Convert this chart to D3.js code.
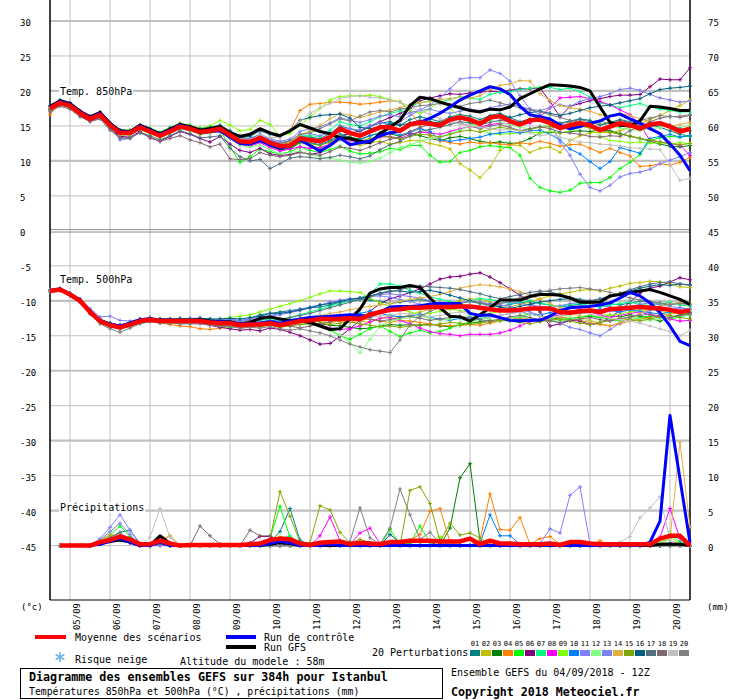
<!doctype html>
<html lang="fr">
<head>
	<meta charset="UTF-8">
	<title>Diagramme des ensembles GEFS - Istanbul</title>
	<style>
		body { margin: 0; background: #fff; }
		svg { display: block; font-family: "DejaVu Sans Mono", monospace; }
		.tick { font-size: 9px; fill: #000; }
		.lbl { font-size: 10px; fill: #000; }
	</style>
</head>
<body>
	<script src="https://d3js.org/d3.v7.min.js"></script>
	<script>
		// ====== data, 6h steps from 04/09 12Z (temperatures start at +0h, precipitations at +6h)
		var dateLabels = ['05/09','06/09','07/09','08/09','09/09','10/09','11/09','12/09',
			'13/09','14/09','15/09','16/09','17/09','18/09','19/09','20/09'];

		var pertColors = ['#008080','#c0c000','#008000','#ff8000','#00ff00','#800080','#00ff80','#ff00ff','#80ff00','#0080ff',
			'#8080ff','#80ff80','#7f7ff0','#e0b040','#80a800','#006080','#507080','#806870','#c0c0c0','#808080'];
		var pertNames = ['01','02','03','04','05','06','07','08','09','10','11','12','13','14','15','16','17','18','19','20'];

		var t850Mean = [17.5,18.3,17.9,16.8,16.0,16.6,15.1,14.0,14.0,14.8,
			14.2,13.6,14.2,14.9,14.6,14.1,14.3,14.6,13.7,12.8,
			12.7,13.3,12.6,12.1,12.2,13.2,13.0,12.8,13.4,14.6,
			14.0,13.6,14.2,14.8,14.8,14.3,15.2,15.5,15.3,15.1,
			15.9,16.2,15.9,15.3,16.2,16.4,15.7,15.2,15.8,15.9,
			15.4,14.7,15.1,15.4,15.1,14.4,14.9,15.4,15.1,14.6,
			15.2,15.4,14.9,14.2,14.6];
		var t850Ctrl = [17.7,18.5,18.1,17.0,16.2,16.8,15.3,14.2,14.1,15.0,
			14.4,13.8,14.4,15.1,14.7,14.0,14.2,14.3,13.4,12.5,
			12.4,12.9,12.3,11.8,12.1,13.0,12.2,11.4,12.2,13.3,
			12.3,12.6,12.8,13.6,14.0,14.3,15.3,15.5,16.1,16.8,
			17.7,18.7,19.4,20.0,20.6,20.3,19.5,17.8,16.6,16.3,
			16.0,15.1,14.6,14.9,15.4,15.7,16.4,16.7,16.0,15.4,
			14.6,13.9,12.4,10.8,8.6];
		var t850Gfs = [17.8,18.6,18.2,17.1,16.3,16.9,15.4,14.3,14.2,15.1,
			14.5,13.9,14.5,15.2,14.9,14.4,14.6,14.9,14.0,13.5,
			13.8,14.6,14.0,13.6,14.3,15.2,14.7,14.2,13.9,13.3,
			13.2,12.8,12.6,13.9,14.8,15.8,17.9,19.1,18.9,18.4,
			18.0,17.6,17.2,17.0,17.4,17.3,17.7,18.9,19.6,20.3,
			20.9,20.8,20.7,20.5,20.0,17.7,15.5,15.1,15.0,15.7,
			17.8,17.7,17.5,17.2,17.2];
		var t850Pert = [
			[17.8,18.5,18.1,17.0,16.3,16.9,15.3,14.4,14.3,15.0, 14.5,14.0,14.6,15.2,14.9,14.4,14.6,15.0,14.2,13.4,
			 13.2,13.8,13.0,12.5,12.7,13.5,13.4,13.2,13.9,15.0, 14.6,14.2,14.9,15.4,15.6,15.1,15.9,16.3,16.0,15.6,
			 16.3,16.6,16.4,15.9,16.5,16.8,16.2,15.6,16.0,16.3, 15.9,15.4,15.7,16.0,15.8,15.2,15.5,15.9,15.6,14.9, 15.2,14.8,14.3,13.8,13.5],
			[17.2,18.0,17.6,16.5,15.8,16.3,14.8,13.7,13.7,14.5, 13.9,13.3,13.9,14.6,14.3,13.8,14.0,14.2,13.3,12.4,
			 12.3,12.9,12.2,11.6,11.8,12.7,12.3,11.8,12.2,13.0, 12.5,12.2,12.6,12.8,12.4,12.6,12.9,12.9,12.5,12.2,
			 11.7,9.6,8.7,7.6,9.1,11.5,12.3,12.2,11.2,11.8, 12.0,11.2,12.9,13.6,14.0,14.1,14.0,14.3,14.8,15.3, 15.9,16.5,17.2,17.9,18.7],
			[17.4,18.2,17.8,16.7,15.9,16.4,14.9,13.8,13.8,14.6, 14.0,13.4,14.0,14.7,14.4,13.9,14.1,14.4,13.4,12.4,
			 12.2,12.9,12.1,11.6,11.7,12.6,12.5,12.3,12.9,13.8, 13.4,13.1,13.6,14.0,13.9,13.5,14.0,13.6,13.2,12.9,
			 13.3,13.5,13.2,12.8,12.6,12.7,12.5,12.6,13.2,14.0, 14.1,14.0,14.2,14.3,14.2,14.4,14.3,13.9,13.5,13.2, 12.8,12.4,12.1,12.0,12.2],
			[16.6,18.4,18.0,16.9,16.1,16.7,15.2,14.1,14.1,14.9, 14.3,13.7,14.3,15.0,14.7,14.2,14.4,14.7,13.8,13.0,
			 12.9,13.6,13.2,13.6,14.3,17.2,18.1,18.2,18.4,18.4, 18.3,18.1,18.2,18.4,18.6,18.5,17.2,15.0,13.6,12.9,
			 12.6,12.4,12.7,12.5,12.6,12.4,12.3,12.6,12.4,12.8, 12.5,12.1,12.3,12.4,11.8,11.2,11.8,11.2,10.7,9.2, 9.3,9.6,9.4,9.8,10.5],
			[17.3,18.1,17.7,16.6,15.8,16.4,14.9,13.9,13.8,14.6, 14.1,13.5,14.0,14.8,14.5,14.0,14.1,14.4,12.0,9.8,
			 10.6,11.7,11.3,11.0,11.3,12.0,11.5,11.2,11.6,12.1, 11.4,11.0,11.1,11.3,11.8,11.6,12.2,12.2,10.8,9.8,
			 9.9,11.2,11.5,12.0,12.2,12.0,11.9,10.8,7.5,6.2, 5.7,5.5,5.8,6.8,6.9,6.9,7.6,8.9,9.8,10.9, 12.9,13.3,13.5,13.4,13.6],
			[17.4,18.2,17.7,16.5,15.7,16.2,14.7,13.5,13.4,14.2, 13.3,12.8,13.5,14.2,13.8,13.2,12.7,13.5,12.4,11.5,
			 11.2,11.8,11.0,10.8,10.9,11.3,10.9,11.2,12.4,13.6, 13.9,14.3,15.0,15.6,16.2,16.8,17.5,18.6,19.0,19.3,
			 19.6,19.5,19.7,19.8,20.0,19.8,20.1,20.3,20.3,20.4, 18.5,16.3,17.8,18.2,18.6,18.9,19.2,19.4,19.4,19.5, 20.6,21.7,21.6,21.6,23.3],
			[17.6,18.4,18.0,16.9,16.1,16.7,15.2,14.1,14.1,14.9, 14.4,13.8,14.4,15.1,14.8,14.3,14.5,14.8,13.8,13.0,
			 12.8,13.5,12.9,12.4,12.6,13.6,13.6,13.5,14.4,15.6, 15.2,15.0,15.6,16.3,16.8,17.1,17.8,18.3,18.6,18.4,
			 18.8,19.2,19.0,18.8,19.5,19.8,19.9,20.2,20.4,20.5, 20.5,20.2,20.4,19.9,19.1,18.3,18.0,17.6,17.9,18.2, 17.7,17.4,17.2,17.0,17.0],
			[17.3,18.1,17.7,16.6,15.8,16.4,14.9,13.8,13.9,14.6, 14.0,13.4,14.0,14.7,14.4,13.9,14.0,14.3,13.2,12.3,
			 12.1,12.6,11.9,11.4,11.7,12.0,11.8,11.9,12.4,13.2, 12.9,12.6,13.0,13.4,13.5,13.2,13.8,14.1,14.0,13.8,
			 14.2,14.6,14.9,14.8,15.2,15.4,15.3,15.2,15.4,16.3, 17.6,19.0,19.1,19.2,18.9,18.5,18.0,17.3,16.6,15.2, 12.9,12.7,12.5,12.2,10.8],
			[17.7,18.5,18.1,17.0,16.3,16.9,15.4,14.4,14.4,15.2, 14.7,14.1,14.8,15.4,15.1,14.7,15.0,15.8,15.1,14.3,
			 14.5,15.8,15.2,13.6,13.9,15.1,16.3,17.5,18.7,19.2, 19.3,19.3,19.4,19.2,18.8,18.4,17.2,16.8,17.4,18.7,
			 17.5,16.2,15.4,14.6,13.9,13.8,13.9,14.0,14.1,14.0, 14.2,14.0,14.3,14.8,15.1,13.5,12.9,12.8,12.6,12.7, 12.5,12.6,12.4,12.6,12.5],
			[17.6,18.4,18.0,16.9,16.1,16.7,15.2,14.2,14.1,14.9, 14.3,13.7,14.3,15.0,14.7,14.2,14.3,14.5,13.5,12.6,
			 12.5,13.0,12.4,11.9,12.0,12.9,12.6,12.3,12.8,13.8, 13.2,13.0,13.6,14.0,14.1,13.7,14.1,14.6,14.2,13.0,
			 12.8,13.0,13.2,13.4,13.8,14.0,14.2,14.0,14.3,14.4, 13.8,13.0,11.7,11.0,9.9,8.9,9.9,11.9,11.5,11.1, 13.2,13.5,13.8,13.4,13.6],
			[17.8,18.6,18.2,17.0,16.2,16.8,15.0,13.0,13.2,14.6, 14.2,13.8,14.4,15.0,14.6,14.0,14.2,14.6,13.8,13.0,
			 13.0,13.6,13.0,12.6,12.9,13.8,13.9,13.6,14.0,14.8, 14.6,14.4,15.0,15.5,15.2,15.6,16.5,17.3,18.0,19.0,
			 20.3,21.7,21.9,21.9,23.0,22.5,21.4,19.3,17.4,16.6, 15.5,12.7,10.8,8.1,6.2,5.7,6.5,7.7,8.2,8.4, 8.8,9.6,10.1,10.6,11.2],
			[17.2,18.0,17.6,16.5,15.8,16.3,14.8,13.7,13.7,14.5, 13.9,13.3,13.9,14.6,14.3,13.8,14.0,14.2,13.2,12.2,
			 12.0,12.3,11.6,11.0,11.2,11.4,10.8,10.6,10.4,10.1, 9.8,9.7,9.9,10.4,11.2,11.9,12.3,12.8,13.2,13.5,
			 13.9,14.4,15.0,15.6,15.8,15.5,15.2,14.8,14.6,14.9, 15.1,14.8,14.6,14.9,15.2,15.4,15.0,14.7,14.5,14.3, 14.6,14.8,15.0,14.7,15.1],
			[17.7,18.5,18.1,17.0,16.2,16.8,15.3,14.3,14.2,15.0, 14.5,13.9,14.5,15.2,14.9,14.4,14.6,14.9,14.0,13.2,
			 13.1,13.8,13.2,12.8,13.1,14.2,14.6,14.9,15.4,16.2, 15.8,15.5,15.9,16.4,16.6,16.3,16.9,17.2,17.4,17.0,
			 16.8,17.1,17.4,17.2,17.6,17.9,18.1,17.8,17.4,17.2, 17.6,18.0,17.8,18.5,18.9,19.2,19.6,20.2,20.4,20.1, 19.5,19.0,18.7,18.4,18.6],
			[17.5,18.3,17.9,16.8,16.0,16.6,15.1,14.1,14.0,14.8, 14.2,13.7,14.3,15.0,14.6,14.1,14.3,14.6,13.7,12.9,
			 12.8,13.4,12.8,12.4,12.6,13.7,14.3,15.1,16.0,16.8, 16.5,16.2,16.6,17.0,17.3,17.6,18.0,18.3,18.5,18.8,
			 18.9,19.1,19.0,19.3,20.2,20.8,21.0,21.5,21.4,19.6, 18.6,17.9,17.6,17.4,17.1,16.6,16.4,16.8,16.5,16.0, 15.6,15.3,15.0,15.2,15.5],
			[17.3,18.1,17.7,16.6,15.9,16.4,14.9,13.8,13.8,14.6, 14.0,13.5,14.1,14.8,14.4,13.9,14.1,14.4,13.5,12.6,
			 12.4,13.0,12.4,11.9,12.1,12.8,12.5,12.2,12.7,13.6, 13.1,12.8,13.2,13.5,13.4,13.1,13.5,13.8,13.7,13.4,
			 13.8,14.2,14.4,14.1,14.5,14.8,14.6,14.3,14.5,14.8, 14.9,14.6,14.8,15.0,14.7,14.3,14.1,13.8,13.6,13.2, 13.0,12.7,12.5,12.3,12.5],
			[17.9,18.7,18.3,17.2,16.4,17.0,15.4,14.4,14.3,15.1, 14.6,14.0,14.7,15.3,15.0,14.6,14.8,15.1,14.3,13.6,
			 13.5,14.3,13.8,13.4,14.3,15.8,16.2,16.5,16.6,16.7, 16.1,14.8,14.6,14.9,15.3,15.1,15.4,15.8,15.6,15.4,
			 15.8,16.0,15.7,15.5,16.0,16.4,16.2,16.6,16.9,17.1, 16.8,16.5,16.8,17.2,17.6,17.8,18.0,18.3,18.6,18.9, 19.6,20.2,20.4,20.5,20.7],
			[17.3,18.0,17.6,16.5,15.7,16.2,14.6,13.3,13.2,14.1, 13.6,13.0,13.6,14.3,13.9,13.3,13.4,13.6,11.8,10.6,
			 10.0,10.2,8.9,9.6,10.4,10.6,10.5,10.3,10.5,10.8, 10.6,10.3,10.7,11.6,12.3,12.8,13.6,14.2,14.5,14.8,
			 15.2,15.6,15.4,15.2,15.5,15.8,15.6,15.3,15.7,16.0, 15.8,15.3,15.6,15.9,15.6,15.1,15.4,15.8,15.5,15.0, 14.8,15.2,15.1,14.6,14.3],
			[17.0,17.8,17.4,16.3,15.6,16.0,14.4,13.3,13.3,14.0, 13.4,12.8,13.2,13.6,13.0,12.6,12.0,12.4,10.3,10.2,
			 10.3,11.2,10.8,10.6,10.8,11.2,11.0,10.8,11.3,12.0, 11.8,11.5,12.0,12.6,13.1,13.4,14.2,14.8,15.2,15.5,
			 15.6,15.4,15.0,14.6,15.0,15.2,14.8,14.3,14.6,14.9, 14.6,14.1,14.0,13.8,13.5,13.4,13.6,13.5,14.3,15.0, 15.6,16.1,16.4,16.2,16.5],
			[17.6,18.4,18.0,16.9,16.1,16.7,15.2,14.2,14.1,14.9, 14.4,13.8,14.4,15.1,14.8,14.3,14.5,14.8,13.9,13.1,
			 13.0,13.7,13.3,13.4,14.2,15.6,16.8,17.6,18.2,18.9, 19.2,19.3,19.1,19.0,18.7,18.4,17.8,17.1,16.7,16.0,
			 15.6,15.3,15.0,14.8,14.6,14.4,14.5,14.3,14.0,13.6, 13.8,13.4,13.0,12.7,12.6,12.4,12.3,12.1,11.9,11.8, 11.7,11.6,9.5,7.2,7.5],
			[17.5,18.3,17.9,16.8,16.0,16.6,15.1,14.0,14.0,14.8, 14.2,13.6,14.2,14.9,14.6,14.1,14.3,14.6,13.6,12.9,
			 12.8,13.4,12.7,12.5,12.9,13.8,14.0,14.6,15.3,16.0, 15.7,16.4,17.0,17.2,17.0,17.4,17.6,17.9,18.0,18.2,
			 18.0,17.8,18.2,18.4,18.7,18.3,17.9,17.6,17.3,17.0, 16.6,16.2,15.8,15.5,15.4,15.7,15.3,15.0,15.4,15.8, 16.1,16.5,16.3,16.4,16.6]
		];

		var t500Mean = [-8.6,-8.4,-9.1,-10.0,-11.6,-12.9,-13.5,-13.8,-13.4,-12.9,
			-12.7,-12.9,-12.9,-12.9,-12.9,-12.9,-13.1,-13.2,-13.2,-13.5,
			-13.4,-13.4,-13.2,-13.5,-13.2,-12.9,-12.8,-12.6,-12.6,-12.6,
			-12.5,-12.6,-12.0,-11.6,-11.3,-11.2,-11.0,-11.0,-10.9,-10.9,
			-10.9,-10.8,-10.8,-11.0,-11.2,-11.4,-11.4,-11.3,-11.1,-11.1,
			-11.1,-11.6,-11.7,-11.5,-11.4,-11.6,-11.2,-11.1,-11.0,-10.9,
			-11.0,-11.1,-11.3,-11.6,-11.4];
		var t500Ctrl = [-8.5,-8.3,-9.0,-9.9,-11.5,-12.8,-13.3,-13.6,-13.2,-12.7,
			-12.6,-12.8,-12.8,-12.9,-12.8,-12.8,-13.0,-13.0,-13.1,-13.3,
			-13.3,-13.2,-13.0,-13.2,-12.9,-12.6,-12.4,-12.3,-12.2,-12.1,
			-12.0,-12.1,-12.2,-11.6,-10.9,-10.8,-10.8,-10.7,-10.5,-10.4,
			-10.4,-10.4,-11.8,-12.1,-12.0,-12.4,-12.8,-12.9,-12.8,-12.8,
			-12.2,-11.4,-11.0,-10.9,-10.8,-10.6,-10.3,-9.6,-8.8,-9.3,
			-10.3,-11.7,-13.6,-15.8,-16.4];
		var t500Gfs = [-8.6,-8.4,-9.1,-10.0,-11.6,-12.9,-13.5,-13.8,-13.4,-12.9,
			-12.6,-12.8,-12.8,-12.8,-12.8,-12.7,-12.9,-13.0,-13.0,-13.3,
			-13.1,-12.5,-12.3,-12.6,-12.8,-12.9,-13.1,-13.6,-14.1,-14.0,
			-12.6,-11.2,-8.9,-8.3,-8.1,-8.1,-7.8,-8.1,-9.6,-11.0,
			-12.2,-12.3,-12.9,-12.0,-11.0,-9.9,-9.9,-9.9,-9.4,-9.1,
			-9.1,-9.2,-9.6,-10.2,-10.2,-10.2,-9.3,-9.1,-8.8,-8.6,
			-8.4,-8.8,-9.3,-9.8,-10.5];
		var t500Pert = [
			[-8.5,-8.3,-9.0,-9.8,-11.3,-12.6,-13.2,-13.5,-13.1,-12.6, -12.4,-12.6,-12.6,-12.5,-12.6,-12.5,-12.7,-12.8,-12.7,-12.9,
			 -12.5,-12.0,-11.8,-11.6,-11.4,-11.2,-11.0,-10.9,-10.6,-10.2, -10.0,-9.8,-9.9,-10.1,-10.4,-10.2,-10.0,-9.8,-10.1,-10.4,
			 -10.6,-10.3,-10.1,-10.4,-10.6,-10.8,-10.5,-10.3,-10.1,-10.4, -10.6,-10.9,-10.7,-10.5,-10.3,-10.2,-10.4,-10.6,-10.3,-10.1, -10.2,-10.4,-10.6,-10.3,-10.5],
			[-8.6,-8.4,-9.1,-10.1,-11.7,-13.0,-13.6,-13.9,-13.5,-13.0, -12.8,-13.0,-13.0,-13.1,-13.0,-13.0,-13.2,-13.3,-13.2,-13.5,
			 -13.4,-13.5,-13.3,-13.6,-13.4,-13.0,-12.9,-13.0,-13.2,-12.8, -12.6,-12.9,-13.1,-12.5,-12.2,-12.4,-12.0,-11.6,-11.2,-10.8,
			 -10.4,-10.0,-9.7,-9.8,-10.2,-10.6,-10.9,-10.5,-10.2,-9.7, -9.3,-9.0,-8.8,-8.5,-8.4,-8.6,-8.2,-7.9,-7.5,-7.4, -7.2,-7.3,-7.6,-8.0,-8.1],
			[-8.7,-8.5,-9.2,-10.1,-11.8,-13.1,-13.7,-14.0,-13.6,-13.1, -12.9,-13.1,-13.1,-13.2,-13.1,-13.1,-13.3,-13.4,-13.4,-13.7,
			 -13.6,-13.6,-13.4,-13.7,-13.4,-13.2,-13.1,-13.3,-13.5,-13.6, -13.8,-14.0,-13.9,-13.6,-13.4,-13.5,-13.4,-13.5,-13.3,-13.6,
			 -13.7,-13.5,-13.2,-13.0,-12.8,-12.9,-12.7,-12.6,-12.8,-12.9, -12.7,-12.4,-12.6,-12.3,-12.2,-12.4,-12.1,-12.3,-12.0,-12.2, -12.5,-12.9,-12.4,-12.0,-11.8],
			[-8.6,-8.4,-9.1,-10.0,-11.6,-12.9,-13.5,-13.8,-13.3,-12.8, -12.9,-13.2,-13.4,-13.6,-13.7,-14.0,-14.1,-13.9,-13.6,-13.7,
			 -13.4,-13.3,-13.1,-13.2,-13.0,-12.9,-12.6,-12.4,-12.7,-12.9, -13.0,-12.8,-12.6,-12.9,-13.1,-12.8,-12.9,-13.1,-13.3,-13.5,
			 -13.6,-13.5,-13.4,-13.5,-13.2,-12.9,-12.6,-12.4,-12.6,-12.8, -12.6,-12.3,-12.5,-12.8,-13.1,-13.4,-13.6,-13.3,-12.9,-12.6, -12.4,-12.1,-11.9,-11.7,-11.6],
			[-8.6,-8.4,-9.0,-9.9,-11.5,-12.8,-13.4,-13.7,-13.3,-12.8, -12.6,-12.8,-12.9,-13.0,-12.9,-13.0,-13.3,-13.6,-13.8,-13.7,
			 -13.4,-13.2,-13.0,-13.2,-13.0,-12.9,-13.1,-13.5,-14.2,-15.0, -15.5,-14.8,-14.0,-13.6,-14.4,-15.1,-14.6,-14.2,-14.6,-14.4,
			 -13.9,-13.4,-13.0,-12.6,-12.2,-12.4,-12.6,-12.2,-11.9,-12.2, -12.5,-12.8,-12.6,-12.3,-12.1,-12.4,-12.6,-12.9,-12.7,-12.4, -12.2,-12.4,-12.6,-12.3,-12.0],
			[-8.7,-8.5,-9.2,-10.2,-11.8,-13.1,-13.7,-14.0,-13.6,-13.1, -12.9,-13.1,-13.1,-13.2,-13.2,-13.2,-13.5,-13.8,-14.0,-14.2,
			 -14.1,-14.3,-13.9,-14.1,-14.5,-15.0,-15.6,-16.2,-16.1,-15.1, -14.0,-12.8,-11.5,-10.4,-9.7,-9.3,-8.8,-8.3,-7.6,-6.9,
			 -6.6,-6.5,-6.2,-6.0,-6.6,-7.4,-8.3,-9.2,-10.1,-11.6, -13.6,-13.3,-12.8,-12.9,-13.4,-13.2,-12.4,-11.4,-10.2,-8.9, -8.2,-7.9,-7.3,-6.7,-7.0],
			[-8.5,-8.3,-9.0,-9.9,-11.5,-12.8,-13.3,-13.6,-13.2,-12.7, -12.5,-12.7,-12.7,-12.8,-12.7,-12.8,-12.9,-13.0,-13.0,-13.2,
			 -13.0,-12.8,-12.6,-12.7,-12.4,-12.0,-11.6,-11.2,-10.8,-10.4, -10.0,-9.6,-9.0,-7.6,-7.6,-7.9,-8.5,-8.9,-9.4,-9.8,
			 -10.1,-10.4,-10.0,-9.7,-9.8,-10.1,-10.4,-10.2,-10.0,-10.3, -10.6,-10.8,-10.5,-10.4,-10.7,-10.9,-10.6,-10.4,-10.2,-10.5, -10.7,-10.4,-10.2,-10.6,-10.8],
			[-8.6,-8.4,-9.1,-10.0,-11.6,-12.8,-13.3,-13.5,-13.1,-12.6, -12.5,-12.7,-12.8,-12.9,-13.0,-13.1,-13.3,-13.5,-13.6,-13.8,
			 -13.7,-13.5,-13.4,-13.6,-13.5,-13.3,-13.2,-13.4,-13.9,-14.1, -14.0,-13.6,-13.0,-12.5,-12.4,-12.8,-13.3,-13.9,-14.4,-14.7,
			 -14.8,-15.0,-14.8,-14.8,-14.8,-14.6,-14.2,-13.6,-13.0,-12.6, -12.3,-12.0,-11.6,-11.2,-11.6,-12.0,-12.4,-12.1,-11.8,-11.6, -12.0,-12.3,-12.6,-12.9,-12.8],
			[-8.5,-8.3,-9.0,-9.9,-11.4,-12.7,-13.2,-13.5,-13.1,-12.6, -12.5,-12.7,-12.7,-12.7,-12.6,-12.6,-12.7,-12.6,-12.4,-12.2,
			 -12.0,-11.6,-11.2,-10.8,-10.4,-10.0,-9.5,-9.0,-8.6,-8.6, -8.7,-8.8,-9.6,-10.3,-10.8,-11.2,-11.6,-12.0,-11.8,-11.5,
			 -11.2,-11.4,-11.7,-12.0,-11.8,-11.5,-11.2,-11.6,-11.9,-12.2, -12.4,-12.2,-12.0,-11.7,-11.5,-11.8,-12.1,-11.9,-11.6,-11.4, -11.2,-11.5,-11.8,-11.6,-11.3],
			[-8.6,-8.4,-9.1,-10.0,-11.6,-12.9,-13.4,-13.7,-13.3,-12.8, -12.7,-12.9,-12.9,-12.9,-12.8,-12.8,-13.0,-13.1,-13.0,-13.2,
			 -13.1,-13.0,-12.8,-12.9,-12.7,-12.5,-12.3,-12.1,-12.3,-12.5, -12.2,-11.8,-11.5,-11.8,-12.1,-12.3,-12.2,-11.9,-12.4,-12.6,
			 -12.8,-12.5,-12.3,-12.6,-12.4,-12.1,-11.8,-11.6,-11.9,-12.0, -11.7,-11.4,-11.6,-11.8,-11.5,-11.2,-11.4,-11.6,-11.3,-11.5, -11.7,-11.9,-11.6,-11.4,-11.7],
			[-8.4,-8.2,-8.9,-9.7,-11.1,-12.3,-12.2,-12.8,-12.9,-12.6, -12.4,-12.6,-12.6,-12.6,-12.5,-12.5,-12.6,-12.7,-12.6,-12.8,
			 -12.6,-12.3,-12.1,-11.8,-11.5,-11.2,-10.9,-10.6,-10.2,-9.9, -9.7,-9.6,-9.4,-9.3,-9.5,-9.8,-10.1,-10.5,-10.8,-11.0,
			 -10.6,-10.3,-10.0,-10.2,-10.4,-10.6,-10.8,-11.2,-11.6,-12.1, -12.6,-13.2,-13.8,-14.1,-14.6,-15.0,-14.1,-13.2,-12.5,-11.8, -11.4,-11.1,-11.3,-11.0,-11.2],
			[-8.5,-8.3,-9.0,-10.0,-11.6,-12.9,-13.4,-13.7,-13.3,-12.8, -12.7,-12.9,-12.9,-13.0,-12.9,-12.9,-13.1,-13.2,-13.3,-13.5,
			 -13.5,-13.6,-13.4,-13.6,-13.4,-13.2,-13.3,-13.6,-14.1,-14.9, -16.0,-17.4,-15.5,-13.6,-12.9,-12.6,-12.4,-12.2,-12.5,-12.8,
			 -12.6,-12.3,-12.1,-12.4,-12.7,-12.9,-12.6,-12.3,-12.5,-12.8, -12.9,-12.6,-12.4,-12.6,-12.9,-13.1,-12.8,-12.5,-12.3,-12.6, -12.8,-12.6,-12.4,-12.2,-12.0],
			[-8.6,-8.4,-9.0,-10.0,-11.5,-12.8,-13.3,-13.6,-13.2,-12.7, -12.6,-12.8,-12.8,-12.8,-12.7,-12.7,-12.8,-12.9,-12.8,-12.9,
			 -12.8,-12.5,-12.2,-12.0,-11.7,-11.4,-11.0,-10.6,-10.3,-10.1, -9.9,-9.6,-9.3,-9.1,-9.0,-9.2,-9.4,-9.6,-10.0,-10.4,
			 -10.7,-10.9,-11.1,-10.9,-10.6,-10.4,-10.2,-10.4,-10.6,-10.8, -11.0,-10.7,-10.4,-10.2,-10.4,-10.6,-10.9,-11.1,-10.8,-10.5, -10.3,-10.6,-10.8,-11.0,-11.2],
			[-8.6,-8.4,-9.1,-10.0,-11.6,-12.9,-13.5,-13.8,-13.4,-12.9, -12.7,-12.9,-12.9,-12.9,-12.9,-12.9,-13.1,-13.2,-13.2,-13.4,
			 -13.3,-13.2,-13.0,-13.1,-12.9,-12.6,-12.4,-12.1,-11.8,-11.6, -11.3,-11.0,-10.8,-10.6,-10.4,-10.1,-9.8,-9.6,-9.4,-9.1,
			 -8.7,-8.2,-7.9,-7.7,-7.8,-8.0,-8.3,-8.7,-9.2,-9.8, -10.4,-11.0,-11.6,-12.2,-12.8,-13.2,-13.6,-13.1,-12.4,-11.8, -11.2,-10.8,-10.5,-10.2,-10.4],
			[-8.6,-8.4,-9.1,-10.1,-11.7,-13.0,-13.6,-13.9,-13.5,-13.0, -12.8,-13.0,-13.0,-13.1,-13.1,-13.1,-13.3,-13.5,-13.6,-13.9,
			 -13.8,-13.7,-13.5,-13.8,-13.6,-13.4,-13.3,-13.2,-13.4,-13.2, -13.0,-13.3,-13.5,-13.7,-13.6,-13.8,-13.6,-13.4,-13.5,-13.3,
			 -13.1,-13.2,-13.4,-13.2,-13.0,-12.8,-12.9,-13.1,-13.3,-13.0, -12.8,-12.6,-12.9,-13.2,-13.4,-13.1,-12.8,-12.5,-12.7,-12.9, -12.6,-12.3,-12.1,-12.4,-12.6],
			[-8.5,-8.3,-9.0,-9.8,-11.4,-12.7,-13.2,-13.5,-13.1,-12.6, -12.5,-12.6,-12.6,-12.6,-12.6,-12.5,-12.6,-12.6,-12.5,-12.6,
			 -12.4,-12.2,-11.8,-11.8,-11.6,-11.3,-11.0,-10.6,-10.4,-10.1, -9.8,-9.6,-9.3,-8.9,-8.6,-8.6,-8.8,-8.7,-8.5,-8.8,
			 -9.2,-9.6,-10.0,-10.3,-10.6,-10.9,-11.1,-10.8,-10.5,-10.2, -10.0,-9.8,-9.7,-9.9,-10.1,-9.8,-9.4,-9.0,-8.6,-8.2, -7.9,-7.7,-7.8,-7.6,-7.7],
			[-8.6,-8.4,-9.1,-10.0,-11.6,-12.9,-13.4,-13.7,-13.3,-12.8, -12.6,-12.8,-12.8,-12.8,-12.8,-12.8,-12.9,-13.0,-13.0,-13.1,
			 -12.9,-12.7,-12.5,-12.6,-12.4,-12.1,-11.8,-11.4,-11.0,-10.6, -10.2,-9.8,-9.4,-9.0,-8.7,-8.4,-8.1,-7.9,-8.0,-8.1,
			 -8.2,-8.4,-8.7,-9.0,-9.4,-9.7,-9.4,-9.1,-8.8,-8.6, -8.7,-9.1,-9.5,-9.8,-10.0,-9.7,-9.3,-8.9,-8.4,-8.0, -7.6,-7.4,-7.3,-7.6,-7.8],
			[-8.6,-8.4,-9.1,-10.1,-11.7,-13.0,-13.6,-13.9,-13.5,-13.0, -12.8,-13.0,-13.0,-13.0,-13.0,-13.0,-13.2,-13.3,-13.3,-13.5,
			 -13.4,-13.3,-13.1,-13.4,-13.6,-13.9,-13.6,-13.3,-13.0,-12.7, -12.5,-12.3,-12.6,-12.9,-12.7,-12.4,-12.2,-12.5,-12.8,-12.6,
			 -12.4,-12.2,-12.5,-12.7,-12.9,-12.6,-12.3,-12.1,-12.4,-12.7, -12.9,-13.1,-12.8,-12.6,-12.4,-12.7,-12.9,-12.6,-12.3,-12.1, -11.9,-12.2,-12.4,-12.1,-11.9],
			[-8.6,-8.4,-9.1,-10.0,-11.6,-12.9,-13.4,-13.7,-13.3,-12.8, -12.7,-12.9,-12.9,-12.9,-12.9,-12.9,-13.1,-13.2,-13.2,-13.4,
			 -13.3,-13.2,-13.0,-13.1,-12.9,-12.7,-12.5,-12.4,-12.6,-12.8, -12.9,-12.7,-12.4,-12.2,-12.0,-11.8,-11.9,-12.1,-12.3,-12.1,
			 -11.8,-11.6,-11.9,-12.2,-12.4,-12.1,-11.8,-11.6,-11.9,-12.2, -12.4,-12.2,-11.9,-11.7,-11.9,-12.2,-12.5,-12.7,-12.9,-13.2, -13.6,-14.0,-14.4,-15.0,-14.2],
			[-8.7,-8.5,-9.2,-10.2,-11.9,-13.3,-14.0,-14.5,-13.9,-13.3, -13.0,-13.2,-13.2,-13.3,-13.3,-13.3,-13.5,-13.6,-13.7,-13.9,
			 -13.8,-13.9,-13.7,-14.0,-14.2,-14.0,-14.3,-14.6,-15.0,-15.6, -16.2,-16.6,-17.0,-17.2,-17.4,-15.6,-13.4,-12.2,-11.5,-11.0,
			 -10.7,-10.4,-10.1,-10.3,-10.6,-10.4,-10.0,-9.6,-9.2,-8.8, -8.5,-8.3,-8.2,-8.1,-8.3,-8.5,-8.8,-9.2,-9.6,-9.9, -10.1,-10.3,-10.5,-10.4,-10.6]
		];

		var precipMean = [0,0,0,0,0.5,0.8,1.3,0.9,0.2,0.2,
			0.7,0.3,0,0.1,0.1,0.1,0.1,0.1,0.1,0.2,
			0.3,0.8,1.0,0.9,0.3,0.1,0.4,0.5,0.6,0.2,
			0.4,0.3,0.2,0.5,0.5,0.7,0.7,0.7,0.6,0.6,
			0.6,1.0,0.2,0.7,0.3,0.3,0.2,0.2,0.2,0.3,
			0.1,0.5,0.5,0.3,0.2,0.2,0.2,0.2,0.2,0.2,
			1.0,1.4,1.4,0];
		var precipCtrl = [0,0,0,0,0.2,0.6,1.0,0.5,0,0,
			0.5,0,0,0,0,0,0,0,0,0,
			0,0.3,0.6,0.4,0,0,0,0.2,0,0,
			0,0,0,0,0,0,0,0,0,0,
			0,0,0,0,0,0,0,0,0,0,
			0,0,0,0,0,0,0,0,0,0.5,
			3.5,18.6,9.5,0.4];
		var precipGfs = [0,0,0,0,0.3,0.6,0.8,0.5,0,0,
			1.4,0.3,0,0,0,0,0,0,0,0,
			0,0.2,0.4,0.3,0,0,0,0,0,0,
			0,0,0,0,0,0,0,0,0,0,
			0,0,0,0,0,0,0,0,0,0,
			0,0,0,0,0,0,0,0,0,0,
			0.2,0.2,0.2,0];
		var precipPert = [
			[0,0,0,0,0.5,1.2,1.9,2.2,0.3,0, 0.4,0,0,0,0,0,0,0,0,0, 0,0.5,2.0,5.3,0.8,0,0,0,0,0, 0,0,0,0,0,0,0,0,0,0, 0,0,0,0,0,0,0,0,0,0, 0,0,0,0,0,0,0,0,0,0, 0.3,0.4,0.2,0],
			[0,0,0,0,0.8,1.6,1.4,0.6,0,0, 0.6,0.2,0,0,0,0,0,0,0,0, 0,0,0,0,0,0,0,0,0,0, 0,0,0,0,0,0,0,0,0,0, 0,0,0,0,0,0,0,0,0,0, 0,0,0,0,0,0,0,0,0,0, 0,0.3,0.5,0],
			[0,0,0,0,0.3,0.7,1.2,0.5,0,0, 0.3,0,0,0,0,0,0,0,0,0, 0,0,0,0,0,0,0,0,0,0, 0,0,0,0,0,0,0,0,0,2.5, 9.7,11.7,0.6,0,0,0,0,0,0,0, 0,0,0,0,0,0,0,0,0,0, 0,0,0,0],
			[0,0,0,0,0.4,0.9,1.1,0.6,0,0, 0.5,1.4,0,0,0,0,0,0,0,0, 0,0,0,0,0,0,0,0,0,0, 0,0,0,0,0,0.8,1.6,4.9,5.3,0.5, 0,0,0.8,7.4,2.3,2.2,4.0,0.2,1.0,1.3, 0.2,0,0,0,0.7,0,0,0,0,0, 0,0,0,0],
			[0,0,0,0,0.6,1.5,2.8,1.3,0.2,0, 0.5,0,0,0,0,0,0,0,0,0, 0,1.0,5.6,1.2,0,0,0,0,0,0, 0,0,0,2.3,0.2,0.3,2.8,0.4,0,0, 0,0,0,0,0,0,0,0,0,0, 0,0,0,0,0,0,0,0,0,0, 0,0,0,0],
			[0,0,0,0,0.3,0.6,1.0,0.4,0,0, 0.2,0,0,0,0,0,0,0,0,0.4, 1.3,1.3,0.3,0,0,0,0,0,0,0, 0,0,0,0,0,0,0,0,0,0, 0,0,0,0,0,0,0,0,0,0, 0,0,0,0,0,0,0,0,0,0, 0,0,0,0],
			[0,0,0,0,0.4,0.8,1.2,0.7,0,0, 0.3,0,0,0,0,0,0,0,0,0, 0,0.4,0.9,1.4,0.4,0,0,0,0,0, 0,0,0,0,0,0,0,0,0,0, 0,0,0,0,0,0,0,0,0,0, 0,0,0,0,0,0,0,0,0,0, 0,1.5,0.6,0],
			[0,0,0,0,0.3,0.7,1.1,0.5,0,0, 0.2,0,0,0,0,0,0,0,0,0, 0,0,0,0,0,0,1.4,4.1,0.7,0.2, 1.8,2.5,0.3,0,0,0,0,0,0,0, 0,0,0,0,0,0,0,0,0,0, 0,0,0,0,0,0,0,0,0,0.4, 1.2,5.3,1.0,0],
			[0,0,0,0,0.4,0.9,1.4,0.6,0,0, 0.9,0.3,0,0,0,0,0,0,0,0, 0,0.6,1.3,0.5,0,0,0,0,0,0, 0,0,0,0,0,0,0,0,1.3,0.4, 0,0,0,0,0,0,0,0,0,0, 0,0,0,0,0,0,0,0,0,0, 0.5,1.2,0.3,0],
			[0,0,0,0,0.4,0.8,1.0,0.6,0,0, 0.3,0,0,0,0,0,0,0,0,0, 0,0,0,0,0,0,0,0,0,0, 0,0,0,0,0,0,0,0,0,0, 0,0,0.3,4.4,1.4,1.4,0.2,0,0,0, 0,0,0,0,0,0,0,0,0,0, 0,0,0,0],
			[0,0,0,0,1.0,2.6,4.4,2.2,0.2,0, 0,0,0,0,0,0,0,0,0,0, 0,0,0,0,0,0,0,0,0,0, 0,0,0,0,0,0,0,0,0,0, 0,0,0,0,0,0,0,0,0.3,2.4, 1.8,7.2,8.4,0.2,0,0,0,0,0,0, 0,0,0,0],
			[0,0,0,0,0.4,0.9,1.3,0.7,0,0, 0.4,0,0,0,0,0,0,0,0,0, 0,0,0,0,0,0,0,0,0,0, 0,0,0,0,0,0,0,0,0,0, 0,0,0,0,0,0,0,0,0,0, 0,0,0,0,0,0,0,0,0,0, 0.3,2.0,0.3,0],
			[0,0,0,0,0.8,2.0,3.2,1.6,0,0, 0,0,0,0,0,0,0,0,0,0, 0,0,0,0,0,0,0,0,0,0, 0,0,0,0,0,0,0,0,0,0, 0,0,0,0,0,0,0,0,0,0, 0,0,0,0,0,0,0,0,0,0, 0,0,0,0],
			[0,0,0,0,0.7,1.5,1.1,0.5,0,0.3, 0.8,1.4,0,0,0,0,0,0,0,0, 0,0,0,0,0,0,0,0,0,0, 0,0,0,0,0,0,0,0,0,0, 0,0,0,0,0,0,0,0,0,0, 0,0,0,0,0,0,0,0,0,0, 0.2,1.0,14.8,2.6],
			[0,0,0,0,0.5,1.0,1.6,0.8,0,0, 0.4,0,0,0,0,0,0,0,0,0, 0,1.0,7.7,4.2,0.5,0.4,5.7,5.1,1.9,0.4, 0.9,0.4,0,0.2,0,7.9,8.4,6.0,0.6,3.2, 1.5,1.8,1.1,0,0,0,0,0,0,0, 0,0,0,0,0,0,0,0,0,0, 0,0,0,0],
			[0,0,0,0,0.4,0.9,1.5,0.9,0,0, 0.5,0,0,0,0,0,0,0,0,0, 0,0,0,0,0,0,0,0,0,0, 0,0,0,1.6,0.4,0,0,0,0.8,0, 0,0,0,0,0,0,0,0,0,0, 0,0,0,0,0,0,0,0,0,0, 0,0.2,0.3,0],
			[0,0,0,0,0.3,0.6,0.9,0.4,0,0, 0.2,0,0,0,0,0,0,0,0,0, 0,0,0,0,0,0,0,0,0,0, 0,0,0,0,0,0,0,0,0,0, 0,0,0,0,0,0,0,0,0,0, 0,0,0,0,0,0,0,0,0,0, 0,0,0,0],
			[0,0,0,0,0.3,0.7,1.0,0.5,0,0, 0.2,0,0,0,2.8,1.4,0.2,0,0,2.2, 1.4,1.4,0.8,0,0,0,0,0,0,0, 0,0,0,0,0,0,0,0,0,0, 0,0,0,0,0,0,0,0,0,0, 0,0,0,0,0,0,0,0,0,0, 0,0,0,0],
			[0,0,0,0,0.5,1.1,1.6,0.6,0,1.2, 5.3,1.2,0,0,0,0,0,0,0,0, 0,0,0,0,0,0,0,0,0,0, 0,0,0,0,0,0,0,0,0,0, 0,0,0,0,0,0,0,0,0,0, 0,0,0,0,0,0,0.5,1.3,4.0,5.4, 7.0,0.8,0,0],
			[0,0,0,0,0.5,1.2,1.8,0.8,0,0, 0.4,0,0,0,0,0,0,0,0,0, 0,0,0,0,0,0,0,0,0,0.6, 5.4,1.1,0.2,2.5,8.1,4.4,0.9,1.9,0.3,0, 0,0,0,0,0,0,0,0,0,0, 0,0,0,0,0,0,0,0,0,0, 0,0,0,0]
		];

		// ====== chart setup
		var w = 740,
			h = 700,
			plotLeft = 50,
			plotRight = 690,
			plotBottom = 600;

		var svg = d3.select('body')
			.append('svg')
			.attr('width', w)
			.attr('height', h);

		// one time axis (hours after 04/09 12Z), one value axis for the three panels
		var xScale = d3.scaleLinear().domain([0, 384]).range([plotLeft, plotRight]);
		var yScale = d3.scaleLinear().domain([-45, 30]).range([545.6, 21]);
		// precipitations (mm) sit on the -45 line of the value axis
		var yPrecip = d3.scaleLinear().domain([0, 20]).range([yScale(-45), yScale(-25)]);


		/**
		* draw grid, axes and tick labels
		*/
		var drawFrame = function() {
			var grid = svg.append('g');

			grid.selectAll('line.v')
				.data(d3.range(12, 384, 24))
				.enter().append('line')
				.attr('x1', function(d) { return xScale(d); })
				.attr('x2', function(d) { return xScale(d); })
				.attr('y1', 0)
				.attr('y2', plotBottom)
				.attr('stroke', '#c0c0c0')
				.attr('stroke-width', 1);

			var values = yScale.ticks(15).filter(function(v) { return v !== 0; });
			grid.selectAll('line.h')
				.data(values)
				.enter().append('line')
				.attr('x1', plotLeft)
				.attr('x2', plotRight)
				.attr('y1', function(d) { return yScale(d); })
				.attr('y2', function(d) { return yScale(d); })
				.attr('stroke', '#c0c0c0')
				.attr('stroke-width', function(d) { return d % 10 === 0 ? 2.2 : 1; });

			// panel separator at 0 drawn as a double line
			[-1.2, 1.2].forEach(function(off) {
				grid.append('line')
					.attr('x1', plotLeft).attr('x2', plotRight)
					.attr('y1', yScale(0) + off).attr('y2', yScale(0) + off)
					.attr('stroke', '#8c8c8c')
					.attr('stroke-width', 1);
			});

			// frame
			grid.append('line').attr('x1', plotLeft).attr('x2', plotLeft).attr('y1', 0).attr('y2', plotBottom)
				.attr('stroke', '#000').attr('stroke-width', 1.5);
			grid.append('line').attr('x1', plotRight).attr('x2', plotRight).attr('y1', 0).attr('y2', plotBottom)
				.attr('stroke', '#000').attr('stroke-width', 1.5);
			grid.append('line').attr('x1', plotLeft).attr('x2', plotRight).attr('y1', plotBottom).attr('y2', plotBottom)
				.attr('stroke', '#000').attr('stroke-width', 1);

			var tickVals = yScale.ticks(15);
			svg.append('g').selectAll('text')
				.data(tickVals)
				.enter().append('text')
				.attr('class', 'tick')
				.attr('x', 20)
				.attr('y', function(d) { return yScale(d) + 5; })
				.text(function(d) { return d; });

			// right axis: +45 for temperatures, mm for precipitations
			svg.append('g').selectAll('text')
				.data(tickVals)
				.enter().append('text')
				.attr('class', 'tick')
				.attr('x', 708)
				.attr('y', function(d) { return yScale(d) + 5; })
				.text(function(d) { return d + 45; });

			svg.append('g').selectAll('text')
				.data(dateLabels)
				.enter().append('text')
				.attr('class', 'tick')
				.attr('text-anchor', 'end')
				.attr('transform', function(d, i) {
					return 'translate(' + (xScale(12 + i * 24) + 9.5) + ',603) rotate(-90)';
				})
				.text(function(d) { return d; });

			svg.append('text').attr('class', 'tick').attr('x', 21).attr('y', 610).text('(°c)');
			svg.append('text').attr('class', 'tick').attr('x', 707).attr('y', 610).text('(mm)');
		};


		/**
		* label of a panel, on a white box
		*/
		var drawPanelLabel = function(text, yBase) {
			var g = svg.append('g');
			var t = g.append('text')
				.attr('class', 'lbl')
				.attr('x', 60)
				.attr('y', yBase)
				.text(text);
			var bb = t.node().getBBox();
			g.insert('rect', 'text')
				.attr('x', bb.x - 1)
				.attr('y', bb.y)
				.attr('width', bb.width + 2)
				.attr('height', bb.height)
				.attr('fill', '#fff');
		};


		/**
		* draw one series as a line, with small crosses for the members
		*/
		var drawSeries = function(g, values, yFn, startHour, color, width, marks) {
			var line = d3.line()
				.x(function(d, i) { return xScale(startHour + i * 6); })
				.y(function(d) { return yFn(d); });

			g.append('path')
				.attr('d', line(values))
				.attr('fill', 'none')
				.attr('stroke', color)
				.attr('stroke-width', width)
				.attr('stroke-linejoin', 'round');

			if (marks) {
				var crosses = values.map(function(d, i) {
					var px = xScale(startHour + i * 6),
						py = yFn(d);
					return 'M' + (px - 2) + ',' + py + 'h4M' + px + ',' + (py - 2) + 'v4';
				}).join('');
				g.append('path')
					.attr('d', crosses)
					.attr('stroke', color)
					.attr('stroke-width', 1);
			}
		};


		var drawPanel = function(pert, gfs, ctrl, mean, yFn, startHour) {
			var g = svg.append('g');
			pert.forEach(function(series, i) {
				drawSeries(g, series, yFn, startHour, pertColors[i], 1, true);
			});
			drawSeries(g, gfs, yFn, startHour, '#000', 3, false);
			drawSeries(g, ctrl, yFn, startHour, '#0000ff', 3, false);
			drawSeries(g, mean, yFn, startHour, '#ff0000', 4.5, false);
		};


		/**
		* legend and captions under the chart
		*/
		var drawLegend = function() {
			var g = svg.append('g');

			g.append('rect').attr('x', 35).attr('y', 635).attr('width', 31).attr('height', 4).attr('fill', '#ff0000');
			g.append('text').attr('class', 'lbl').attr('x', 75).attr('y', 641).text('Moyenne des scénarios');
			g.append('rect').attr('x', 226).attr('y', 635).attr('width', 30).attr('height', 4).attr('fill', '#0000ff');
			g.append('text').attr('class', 'lbl').attr('x', 264).attr('y', 641).text('Run de contrôle');
			g.append('rect').attr('x', 226).attr('y', 645).attr('width', 30).attr('height', 4).attr('fill', '#000');
			g.append('text').attr('class', 'lbl').attr('x', 264).attr('y', 651).text('Run GFS');

			// snow flake
			var flake = g.append('g').attr('transform', 'translate(60,657)')
				.attr('stroke', '#6fb3e8').attr('stroke-width', 1.6);
			[0, 60, 120].forEach(function(a) {
				flake.append('line').attr('x1', 0).attr('y1', -5).attr('x2', 0).attr('y2', 5)
					.attr('transform', 'rotate(' + a + ')');
			});
			g.append('text').attr('class', 'lbl').attr('x', 75).attr('y', 663).text('Risque neige');
			g.append('text').attr('class', 'lbl').attr('x', 180).attr('y', 665).text('Altitude du modele : 58m');

			g.append('text').attr('class', 'lbl').attr('x', 372).attr('y', 656).text('20 Perturbations');
			g.selectAll('rect.sw')
				.data(pertColors)
				.enter().append('rect')
				.attr('x', function(d, i) { return 470 + i * 11; })
				.attr('y', 650)
				.attr('width', 10)
				.attr('height', 6)
				.attr('fill', function(d) { return d; });
			g.selectAll('text.sw')
				.data(pertNames)
				.enter().append('text')
				.attr('x', function(d, i) { return 475 + i * 11; })
				.attr('y', 646)
				.attr('text-anchor', 'middle')
				.style('font-size', '7px')
				.text(function(d) { return d; });

			g.append('rect').attr('x', 20.5).attr('y', 668.5).attr('width', 422).attr('height', 30)
				.attr('fill', 'none').attr('stroke', '#000').attr('stroke-width', 1);
			g.append('text').attr('x', 29).attr('y', 681)
				.style('font-size', '11.7px').style('font-weight', 'bold')
				.text('Diagramme des ensembles GEFS sur 384h pour Istanbul');
			g.append('text').attr('x', 29).attr('y', 695)
				.style('font-size', '9.8px')
				.text('Températures 850hPa et 500hPa (°C) , précipitations (mm)');
			g.append('text').attr('class', 'lbl').attr('x', 451).attr('y', 676)
				.text('Ensemble GEFS du 04/09/2018 - 12Z');
			g.append('text').attr('x', 451).attr('y', 696)
				.style('font-size', '11.6px').style('font-weight', 'bold')
				.text('Copyright 2018 Meteociel.fr');
		};


		drawFrame();
		drawPanelLabel('Temp. 850hPa', 95);
		drawPanelLabel('Temp. 500hPa', 283);
		drawPanelLabel('Précipitations', 511);
		drawPanel(t850Pert, t850Gfs, t850Ctrl, t850Mean, yScale, 0);
		drawPanel(t500Pert, t500Gfs, t500Ctrl, t500Mean, yScale, 0);
		drawPanel(precipPert, precipGfs, precipCtrl, precipMean, yPrecip, 6);
		drawLegend();
	</script>
</body>
</html>
